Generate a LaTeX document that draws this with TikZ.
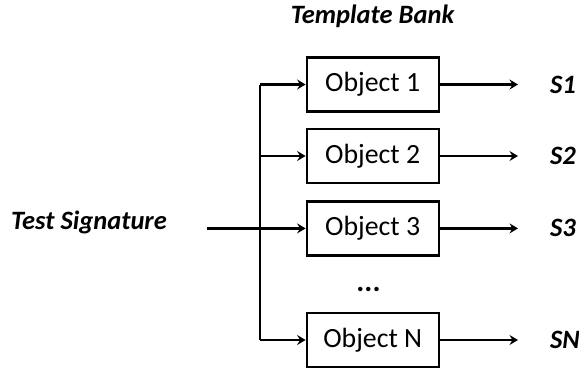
\documentclass[tikz,border=0pt]{standalone}
\usepackage{fontspec}
\setmainfont{Carlito}
\usetikzlibrary{arrows.meta}
\begin{document}
\begin{tikzpicture}[x=1pt,y=-1pt,
  line width=2.2pt,
  objbox/.style={draw=black, line width=2.2pt, minimum width=132pt, minimum height=54pt, inner sep=0pt, font=\fontsize{27.8}{32}\selectfont},
  lbl/.style={inner sep=0pt, font=\fontsize{26.5}{30}\selectfont\bfseries\itshape},
  arr/.style={-{Stealth[length=8.5pt,width=10pt,inset=3pt]}}]
\useasboundingbox (0,0) rectangle (579,368);
\node[objbox] (o1) at (372.7,84.5) {Object 1};
\node[objbox] (o2) at (372.7,156) {Object 2};
\node[objbox] (o3) at (372.7,228.4) {Object 3};
\node[objbox] (oN) at (372.7,340) {Object N};
\node[inner sep=0pt, anchor=base, font=\fontsize{30}{34}\selectfont\bfseries] (dots) at (368.5,291.5) {...};
\node[lbl, anchor=base] (title) at (372.5,23.3) {Template Bank};
\node[lbl, anchor=base west] (ts) at (10,229.3) {Test Signature};
\node[lbl, anchor=west] (s1) at (549,84.5) {S1};
\node[lbl, anchor=west] (s2) at (549,156) {S2};
\node[lbl, anchor=west] (s3) at (549,228.4) {S3};
\node[lbl, anchor=west] (sN) at (549,340) {SN};
\coordinate (bus) at (260.3,0);
\coordinate (in) at (207,228.4);
\draw (bus |- o1.west) -- (bus |- oN.west);
\draw[arr] (bus |- o1.west) -- (o1.west);
\draw[arr] (bus |- o2.west) -- (o2.west);
\draw[arr] (bus |- oN.west) -- (oN.west);
\draw[arr] (in) -- (o3.west);
\foreach \o/\s in {o1/s1,o2/s2,o3/s3,oN/sN}
  \draw[arr, shorten >=31pt] (\o.east) -- (\s.west);
\end{tikzpicture}
\end{document}
